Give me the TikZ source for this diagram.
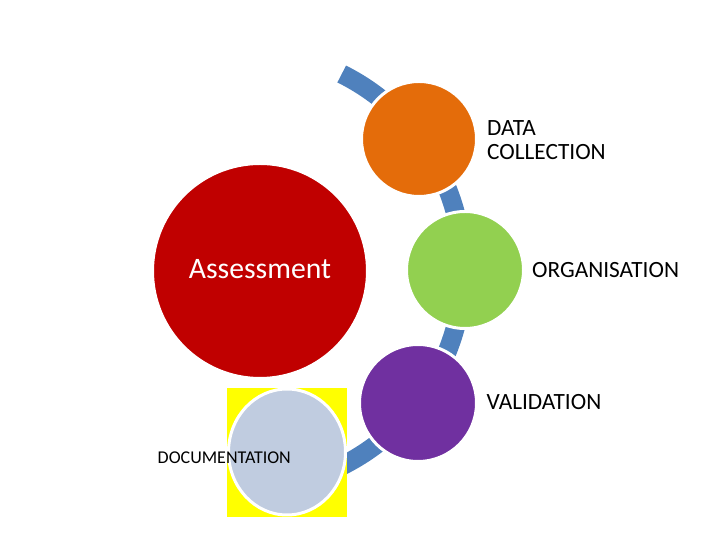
\documentclass[tikz,border=0pt]{standalone}
\usepackage{fontspec}
\setmainfont{Carlito}
\usetikzlibrary{shapes.geometric}
\definecolor{cred}{HTML}{C00000}
\definecolor{corange}{HTML}{E46C0A}
\definecolor{cgreen}{HTML}{92D050}
\definecolor{cpurple}{HTML}{7030A0}
\definecolor{cdoc}{HTML}{C0CCE0}
\definecolor{cblue}{HTML}{4F81BD}
\definecolor{cyellow}{HTML}{FFFF00}
\begin{document}
\begin{tikzpicture}[x=1pt,y=1pt,
  disc/.style={circle,draw=white,line width=3pt,inner sep=0pt},
  lbl/.style={inner sep=0pt,font=\fontsize{23.3}{24}\selectfont,text=black},
  bluearc/.style={draw=cblue,line width=19pt}
]
\useasboundingbox (0,0) rectangle (720,540);
\coordinate (arcc) at (244,270);
% blue arc behind the circles
\draw[bluearc] (arcc) ++(63.5:219) arc[start angle=63.5,end angle=-78,radius=219];
% circles
\node[disc,fill=cred,minimum size=215pt] (assess) at (260,269) {};
\node[disc,fill=corange,minimum size=115pt] (data) at (419,401) {};
\node[disc,fill=cgreen,minimum size=117pt] (org) at (465,270) {};
\node[disc,fill=cpurple,minimum size=117pt] (valid) at (418,137) {};
% documentation
\fill[cyellow] (227,23) rectangle (347,152);
\node[ellipse,draw=white,line width=3pt,inner sep=0pt,fill=cdoc,minimum width=117pt,minimum height=126pt] (doc) at (287,88) {};
% labels
\node[inner sep=0pt,anchor=base,text=white,font=\fontsize{29.7}{31}\selectfont] (assesst) at (260,261) {Assessment};
\node[lbl,anchor=north west,align=left] (datat) at (487,420) {DATA\\COLLECTION};
\node[lbl,anchor=base west] (orgt) at (532,262) {ORGANISATION};
\node[lbl,anchor=base west] (validt) at (486.5,130) {VALIDATION};
\node[inner sep=0pt,anchor=base west,font=\fontsize{18}{20}\selectfont] (doct) at (157.5,76) {DOCUMENTATION};
\end{tikzpicture}
\end{document}
